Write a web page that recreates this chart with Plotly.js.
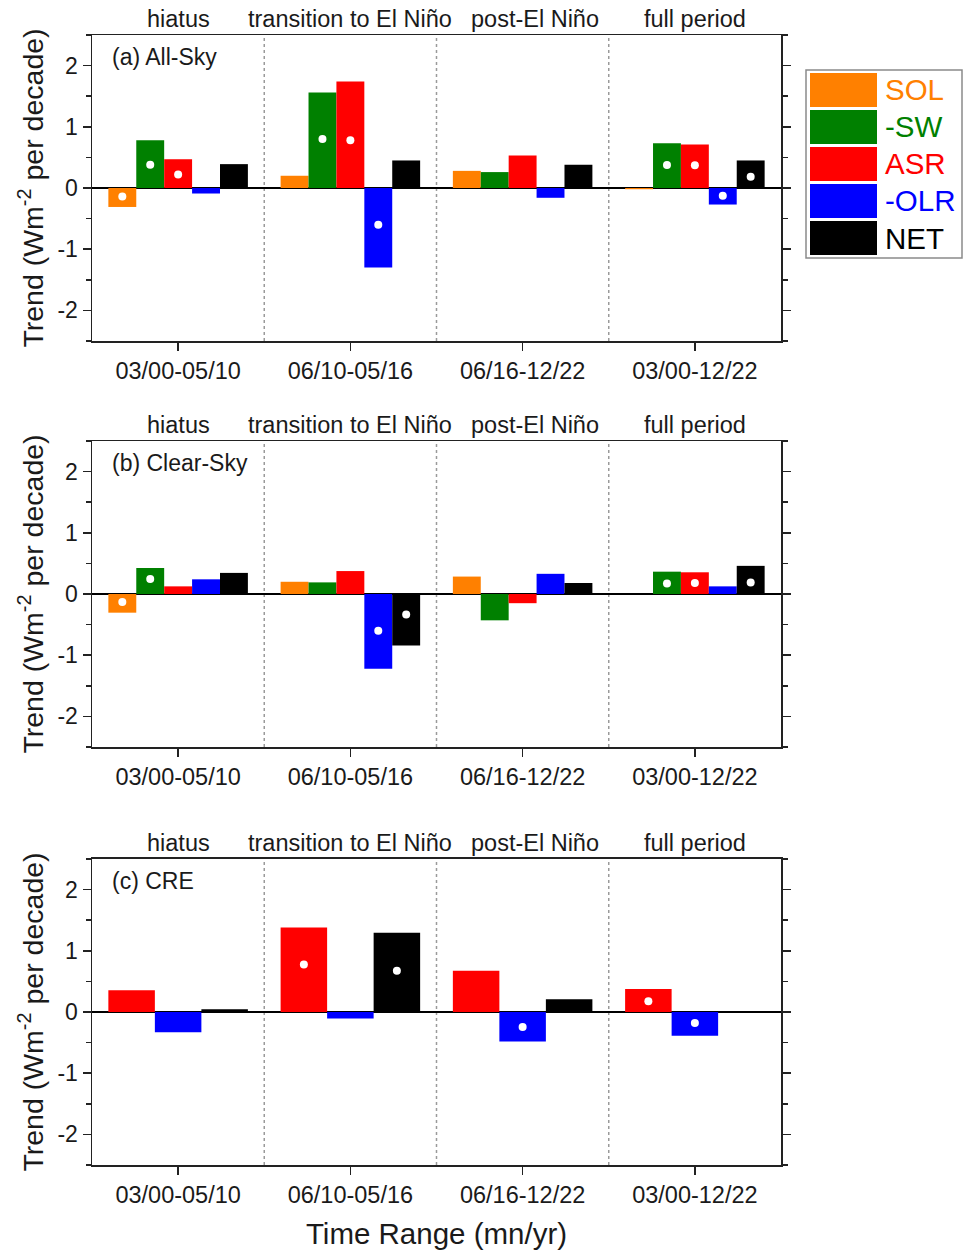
<!DOCTYPE html>
<html>
<head>
<meta charset="utf-8">
<script src="https://cdn.plot.ly/plotly-3.0.1.min.js"></script>
<style>
  html, body { margin: 0; padding: 0; background: #ffffff; }
  #chart { width: 963px; height: 1254px; }
</style>
</head>
<body>
<div id="chart"></div>
<script>
// Time ranges (x categories) and the ENSO phase each one covers
const timeRanges = ['03/00-05/10', '06/10-05/16', '06/16-12/22', '03/00-12/22'];
const phases = ['hiatus', 'transition to El Niño', 'post-El Niño', 'full period'];

// Flux components and their colours
const seriesNames = ['SOL', '-SW', 'ASR', '-OLR', 'NET'];
const seriesColors = ['#FF8000', '#008000', '#FF0000', '#0000FF', '#000000'];

// y-axis ticks (plain hyphen for negatives)
const yTickVals = [-2, -1, 0, 1, 2];
const yTickText = ['-2', '-1', '0', '1', '2'];

// (a) All-Sky trends, W m-2 per decade
const allSkySOL = [-0.31, 0.20, 0.28, -0.02];
const allSkySW  = [0.78, 1.56, 0.26, 0.73];
const allSkyASR = [0.47, 1.74, 0.53, 0.71];
const allSkyOLR = [-0.09, -1.30, -0.16, -0.27];
const allSkyNET = [0.39, 0.45, 0.38, 0.45];
// significance markers (null = not significant)
const allSkySOLSig = [-0.14, null, null, null];
const allSkySWSig  = [0.38, 0.80, null, 0.375];
const allSkyASRSig = [0.22, 0.78, null, 0.37];
const allSkyOLRSig = [null, -0.60, null, -0.125];
const allSkyNETSig = [null, null, null, 0.185];

// (b) Clear-Sky trends
const clearSkySOL = [-0.305, 0.20, 0.285, 0.0];
const clearSkySW  = [0.425, 0.19, -0.43, 0.365];
const clearSkyASR = [0.125, 0.375, -0.15, 0.355];
const clearSkyOLR = [0.24, -1.22, 0.33, 0.125];
const clearSkyNET = [0.345, -0.84, 0.18, 0.46];
const clearSkySOLSig = [-0.13, null, null, null];
const clearSkySWSig  = [0.245, null, null, 0.17];
const clearSkyASRSig = [null, null, null, 0.18];
const clearSkyOLRSig = [null, -0.60, null, null];
const clearSkyNETSig = [null, -0.335, null, 0.19];

// (c) Cloud radiative effect trends
const creASR = [0.355, 1.38, 0.675, 0.375];
const creOLR = [-0.33, -0.105, -0.48, -0.39];
const creNET = [0.045, 1.295, 0.21, 0.0];
const creASRSig = [null, 0.775, null, 0.175];
const creOLRSig = [null, null, -0.245, -0.18];
const creNETSig = [null, 0.675, null, null];

const panels = [
  { axis: '', label: '(a) All-Sky', domain: [0.7292, 1],
    series: [0, 1, 2, 3, 4],
    values: [allSkySOL, allSkySW, allSkyASR, allSkyOLR, allSkyNET],
    sig: [allSkySOLSig, allSkySWSig, allSkyASRSig, allSkyOLRSig, allSkyNETSig] },
  { axis: '2', label: '(b) Clear-Sky', domain: [0.3699, 0.6407],
    series: [0, 1, 2, 3, 4],
    values: [clearSkySOL, clearSkySW, clearSkyASR, clearSkyOLR, clearSkyNET],
    sig: [clearSkySOLSig, clearSkySWSig, clearSkyASRSig, clearSkyOLRSig, clearSkyNETSig] },
  { axis: '3', label: '(c) CRE', domain: [0, 0.2708],
    series: [2, 3, 4],
    values: [creASR, creOLR, creNET],
    sig: [creASRSig, creOLRSig, creNETSig] }
];

const FONT = 'Liberation Sans, Arial, sans-serif';
const TEXT = '#1a1a1a';
const FRAME = '#222222';
const GROUP = 0.81;          // total width of one group of bars
const PHASE_SHIFT = [0, 0, 12, 0];   // nudge so neighbouring phase names do not touch
const xIdx = timeRanges.map((_, i) => i);

const traces = [];
const shapes = [];
const annotations = [];
const layout = {
  width: 963, height: 1254,
  margin: { l: 92, r: 182, t: 35, b: 89 },
  paper_bgcolor: '#ffffff', plot_bgcolor: '#ffffff',
  font: { family: FONT, color: TEXT, size: 23 },
  showlegend: false,
  barmode: 'overlay',
  hovermode: false
};

panels.forEach((p, pi) => {
  const xa = 'x' + p.axis, ya = 'y' + p.axis;
  const n = p.series.length;
  const w = GROUP / n;
  p.series.forEach((s, k) => {
    const off = -GROUP / 2 + k * w;
    traces.push({
      type: 'bar', x: xIdx, y: p.values[k], width: w, offset: off,
      xaxis: xa, yaxis: ya, name: seriesNames[s],
      marker: { color: seriesColors[s], line: { width: 0 } }
    });
    const sx = [], sy = [];
    p.sig[k].forEach((v, i) => { if (v !== null) { sx.push(i + off + w / 2); sy.push(v); } });
    traces.push({
      type: 'scatter', mode: 'markers', x: sx, y: sy,
      xaxis: xa, yaxis: ya,
      marker: { color: '#ffffff', size: 8, line: { width: 0 } }
    });
  });

  layout['xaxis' + p.axis] = {
    anchor: ya, range: [-0.5, 3.5],
    tickmode: 'array', tickvals: xIdx, ticktext: timeRanges,
    ticks: 'outside', ticklen: 8, tickwidth: 1.5, tickcolor: FRAME,
    showline: true, mirror: true, linecolor: FRAME, linewidth: 1.5,
    showgrid: false, zeroline: false,
    tickfont: { size: 23.5, color: TEXT, family: FONT },
    fixedrange: true
  };
  layout['yaxis' + p.axis] = {
    anchor: xa, domain: p.domain, range: [-2.5, 2.5],
    tickmode: 'array', tickvals: yTickVals, ticktext: yTickText,
    ticks: 'outside', ticklen: 8, tickwidth: 1.5, tickcolor: FRAME,
    minor: { tickmode: 'linear', dtick: 0.5, tick0: 0, ticks: 'outside', ticklen: 5, tickwidth: 1.5, tickcolor: FRAME },
    showline: true, mirror: 'ticks', linecolor: FRAME, linewidth: 1.5,
    showgrid: false, zeroline: true, zerolinecolor: '#000000', zerolinewidth: 1.5,
    tickfont: { size: 23, color: TEXT, family: FONT },
    title: { text: 'Trend (Wm<sup>-2</sup> per decade)', font: { size: 28.5, color: TEXT, family: FONT }, standoff: 5 },
    fixedrange: true
  };
  if (pi === 2) {
    layout['xaxis' + p.axis].title = {
      text: 'Time Range (mn/yr)', font: { size: 29.5, color: TEXT, family: FONT }, standoff: 16
    };
  }

  // dotted separators between time ranges
  [0.5, 1.5, 2.5].forEach(xv => shapes.push({
    type: 'line', xref: xa, yref: ya + ' domain', x0: xv, x1: xv, y0: 0, y1: 1,
    line: { color: '#9a9a9a', width: 1.5, dash: 'dot' }, layer: 'below'
  }));

  // phase names above each range
  phases.forEach((ph, i) => annotations.push({
    xref: xa, yref: ya + ' domain', x: i, y: 1, yanchor: 'bottom', yshift: 1,
    xshift: PHASE_SHIFT[i],
    text: ph, showarrow: false, font: { size: 23.5, color: TEXT, family: FONT }
  }));

  // panel label
  annotations.push({
    xref: xa + ' domain', yref: ya + ' domain', x: 0.026, y: 0.928,
    xanchor: 'left', yanchor: 'middle', text: p.label, showarrow: false,
    font: { size: 23, color: TEXT, family: FONT }
  });
});

// legend box with large swatches and coloured names (pixel -> paper helpers)
const plotL = 92, plotR = 781, plotT = 35, plotB = 1165;
const px = v => (v - plotL) / (plotR - plotL);
const py = v => (plotB - v) / (plotB - plotT);
shapes.push({
  type: 'rect', xref: 'paper', yref: 'paper',
  x0: px(806), x1: px(962), y0: py(258), y1: py(70),
  line: { color: '#8a8a8a', width: 1.5 }, fillcolor: '#ffffff'
});
seriesNames.forEach((name, k) => {
  const top = 73 + k * 37, bot = top + 34;
  shapes.push({
    type: 'rect', xref: 'paper', yref: 'paper',
    x0: px(810), x1: px(877), y0: py(bot), y1: py(top),
    line: { width: 0 }, fillcolor: seriesColors[k]
  });
  annotations.push({
    xref: 'paper', yref: 'paper', x: px(883), y: py((top + bot) / 2),
    xanchor: 'left', yanchor: 'middle', text: name, showarrow: false,
    font: { size: 29.5, color: seriesColors[k], family: FONT }
  });
});

layout.shapes = shapes;
layout.annotations = annotations;

Plotly.newPlot('chart', traces, layout, { staticPlot: true, displayModeBar: false });
</script>
</body>
</html>
